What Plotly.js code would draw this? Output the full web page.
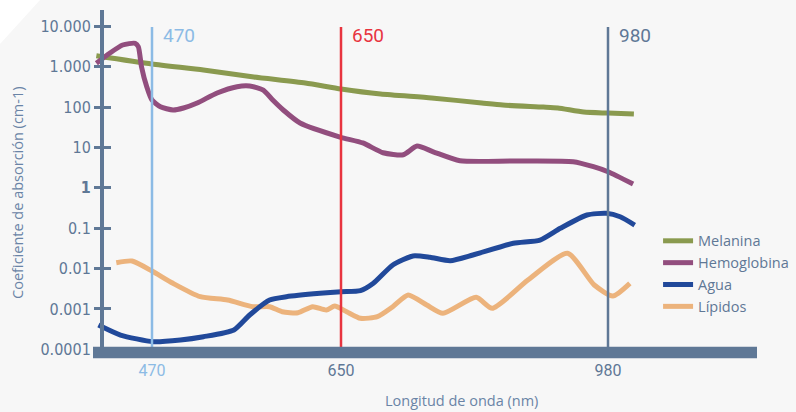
<!DOCTYPE html>
<html><head><meta charset="utf-8">
<script src="https://cdn.plot.ly/plotly-3.0.1.min.js"></script>
<style>html,body{margin:0;padding:0;background:#f7f7f7;}#chart{width:796px;height:412px;}</style>
</head><body><div id="chart"></div>
<script>
// Wavelengths (nm) and absorption coefficients (cm-1)
const melaninaNm  = [417, 470, 519, 567, 616, 650, 699, 762, 824, 850, 900, 918, 950, 980, 1012];
const melaninaVal = [1870, 1165, 827, 555, 394, 280, 210, 168, 126, 112, 100, 95, 75, 71, 67];

const hemoNm  = [417, 430, 442, 454, 457, 460, 465, 470, 478, 490, 500, 513, 532, 551, 563, 576, 585, 595, 611, 649, 677, 702, 727, 744, 764, 797, 863, 937, 962, 980, 1011];
const hemoVal = [1212, 2182, 3442, 3792, 3124, 999, 319, 149, 102, 84.5, 94.7, 126, 223, 319, 332, 264, 149, 84.5, 40.3, 18.1, 12.9, 7.4, 6.6, 10.8, 7.8, 4.69, 4.61, 4.43, 3.33, 2.5, 1.24];

const aguaNm  = [419, 440, 471, 497, 519, 548, 563, 582, 598, 630, 650, 674, 690, 714, 739, 760, 785, 813, 863, 896, 921, 954, 978, 995, 1013];
const aguaVal = [0.000400, 0.000226, 0.000154, 0.000170, 0.000205, 0.000301, 0.000707, 0.00166, 0.00201, 0.00244, 0.00267, 0.00283, 0.00431, 0.01224, 0.0205, 0.0190, 0.01565, 0.02166, 0.0422, 0.0509, 0.0993, 0.212, 0.2335, 0.1924, 0.1199];

const lipNm  = [436, 451, 470, 490, 516, 542, 566, 582, 594, 609, 623, 636, 644, 657, 674, 695, 714, 733, 756, 776, 817, 837, 881, 930, 963, 986, 1007];
const lipVal = [0.01396, 0.01538, 0.0087, 0.00431, 0.00201, 0.00166, 0.001135, 0.001135, 0.000853, 0.000806, 0.001135, 0.00094, 0.00118, 0.000853, 0.000586, 0.000642, 0.001135, 0.00221, 0.00125, 0.000779, 0.00194, 0.001036, 0.0052, 0.02385, 0.00391, 0.00209, 0.00431];

const markedNm = [470, 650, 980];
const markedLabels = ['470', '650', '980'];
const yTickVals = [0.0001, 0.001, 0.01, 0.1, 1, 10, 100, 1000, 10000];
const yTickText = ['0.0001', '0.001', '0.01', '0.1', '<b>1</b>', '10', '100', '1.000', '10.000'];

// The reference's wavelength axis is not uniform: piecewise-linear scale between the marked wavelengths
const KNOT_NM = [470, 650, 980];
const KNOT_POS = [0, 189, 456];
function pos(nm) {
  const i = nm <= KNOT_NM[1] ? 0 : 1;
  const k = (KNOT_POS[i + 1] - KNOT_POS[i]) / (KNOT_NM[i + 1] - KNOT_NM[i]);
  return KNOT_POS[i] + (nm - KNOT_NM[i]) * k;
}

const SLATE = '#5f7896';
const markColors = ['#8cbbe5', '#e8343f', SLATE];

function line(name, nm, val, color, rank) {
  return {
    type: 'scatter', mode: 'lines', name: name,
    x: nm.map(pos), y: val,
    line: {color: color, width: 5, shape: 'spline', smoothing: 0.6},
    legendrank: rank, hoverinfo: 'skip'
  };
}

const traces = [
  line('Melanina', melaninaNm, melaninaVal, '#8a9a4f', 1),
  line('Hemoglobina', hemoNm, hemoVal, '#924e7e', 2),
  line('Lípidos', lipNm, lipVal, '#ecb37c', 4),
  line('Agua', aguaNm, aguaVal, '#21499a', 3),
  {type: 'scatter', x: [], y: [], yaxis: 'y2', showlegend: false, hoverinfo: 'skip'}
];

const yRange = [-4.017, 4.404];
const yCommon = {
  type: 'log', range: yRange, anchor: 'free', position: 0.01355,
  tickvals: yTickVals, showgrid: false, zeroline: false,
  tickcolor: SLATE, tickwidth: 3
};

const shapes = [{
  type: 'path', xref: 'paper', yref: 'paper', layer: 'below',
  path: 'M -0.1401 1.0294 L -0.0798 1.0294 L -0.1401 0.9 Z',
  fillcolor: '#ffffff', line: {width: 0}
}];
markedNm.forEach((nm, i) => shapes.push({
  type: 'line', xref: 'x', yref: 'paper', x0: pos(nm), x1: pos(nm), y0: 0, y1: 0.95,
  line: {color: markColors[i], width: 2.5}, layer: 'above'
}));
shapes.push({
  type: 'rect', xref: 'paper', yref: 'paper', x0: 0, x1: 1, y0: -0.0244, y1: 0.0097,
  fillcolor: SLATE, line: {width: 0}, layer: 'above'
});

const annotations = markedNm.map((nm, i) => ({
  xref: 'x', yref: 'paper', x: pos(nm), y: 0.926, xanchor: 'left', yanchor: 'middle',
  xshift: 9, text: markedLabels[i], showarrow: false,
  font: {size: 19, color: markColors[i], family: 'Roboto, "Open Sans", sans-serif'}
}));
annotations.push({
  xref: 'paper', yref: 'paper', x: 0.5557, y: -0.15, xanchor: 'center', yanchor: 'middle',
  text: 'Longitud de onda (nm)', showarrow: false,
  font: {size: 14.5, color: '#6a84a6'}
});
annotations.push({
  xref: 'paper', yref: 'paper', x: -0.113, y: 0.462, xanchor: 'center', yanchor: 'middle',
  textangle: -90, text: 'Coeficiente de absorción (cm-1)', showarrow: false,
  font: {size: 14.5, color: '#6a84a6'}
});

const layout = {
  width: 796, height: 412,
  paper_bgcolor: '#f7f7f7', plot_bgcolor: '#f7f7f7',
  margin: {l: 93, r: 39, t: 10, b: 62, pad: 0, autoexpand: false},
  font: {family: '"Open Sans", sans-serif', color: SLATE},
  showlegend: true,
  legend: {x: 0.851, y: 0.368, xanchor: 'left', yanchor: 'top', bgcolor: 'rgba(0,0,0,0)',
           font: {size: 14.5, color: SLATE}, tracegroupgap: 0},
  xaxis: {
    range: [-59, 605], showgrid: false, zeroline: false, showline: false, ticks: '',
    tickvals: markedNm.map(pos),
    ticktext: markedLabels.map((t, i) => i === 0 ? '<span style="color:#8cbbe5">' + t + '</span>' : t),
    tickfont: {size: 16, color: SLATE, family: 'Roboto, "Open Sans", sans-serif'},
    ticklabelstandoff: 9
  },
  yaxis: Object.assign({}, yCommon, {
    showline: true, linecolor: SLATE, linewidth: 4,
    ticks: 'outside', ticklen: 6, ticktext: yTickText,
    tickfont: {size: 16, color: SLATE, family: '"Liberation Sans Narrow", "DejaVu Sans Condensed", Roboto, sans-serif'}
  }),
  yaxis2: Object.assign({}, yCommon, {
    overlaying: 'y', showline: false, ticks: 'inside', ticklen: 8, showticklabels: false
  }),
  shapes: shapes,
  annotations: annotations
};

Plotly.newPlot('chart', traces, layout, {displayModeBar: false, staticPlot: true});
</script>
</body></html>
